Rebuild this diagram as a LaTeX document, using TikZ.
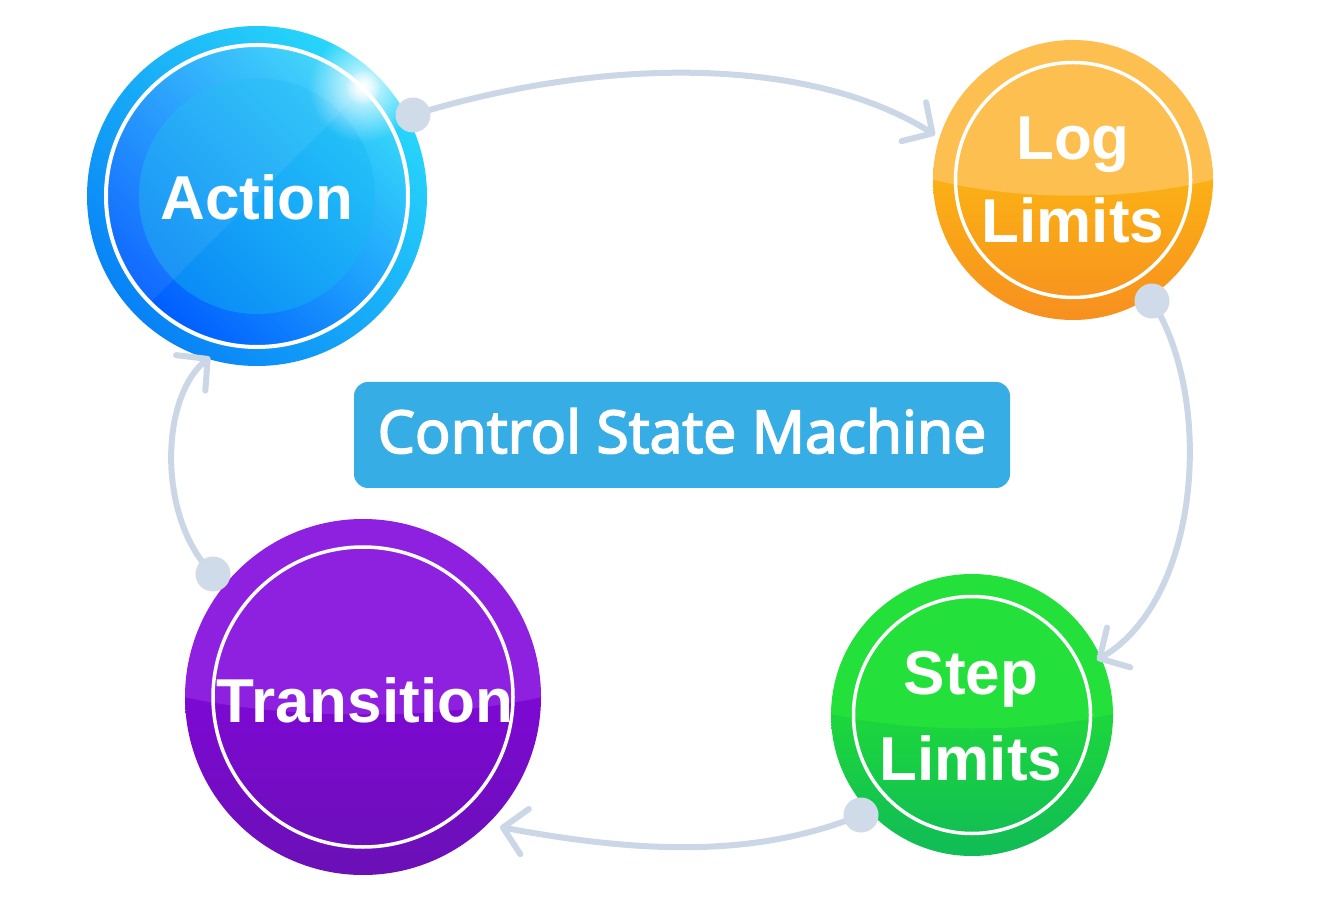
\documentclass[tikz,border=0pt]{standalone}
\usepackage{fontspec}
\setmainfont{Liberation Sans}
\newfontfamily\lblfont[FakeBold=3]{Open Sans}
\usetikzlibrary{arrows.meta,fadings}
\tikzfading[name=glowfade, inner color=transparent!0, outer color=transparent!100]
\definecolor{lineC}{HTML}{CBD7E6}
\definecolor{dotC}{HTML}{CFDBE8}
\definecolor{acTop}{HTML}{28D8FA}
\definecolor{acBot}{HTML}{0882F6}
\definecolor{acRingTop}{HTML}{36D6FA}
\definecolor{acRingBot}{HTML}{005EFF}
\definecolor{acInTop}{HTML}{24C2F8}
\definecolor{acInBot}{HTML}{0A8CF6}
\definecolor{logTop}{HTML}{FDBF4F}
\definecolor{logMid}{HTML}{FBB314}
\definecolor{logBot}{HTML}{F78F1F}
\definecolor{stTop}{HTML}{23E13A}
\definecolor{stMid}{HTML}{1DD83B}
\definecolor{stBot}{HTML}{10BB57}
\definecolor{trTop}{HTML}{8E21E0}
\definecolor{trMid}{HTML}{7E08D4}
\definecolor{trBot}{HTML}{6A10B6}
\definecolor{boxC}{HTML}{36ADE5}
\begin{document}
\begin{tikzpicture}[x=1pt,y=1pt,
  conn/.style={draw=lineC, line width=6pt, line cap=round,
    -{Straight Barb[length=22pt,width=46pt,round]}},
  dotst/.style={fill=dotC},
  ringst/.style={draw=white, line width=3.5pt},
  circtxt/.style={text=white, font=\fontsize{62}{70}\selectfont\bfseries, anchor=base, inner sep=0pt},
  statecirc/.style={circle, inner sep=0pt}
]
\useasboundingbox (0,0) rectangle (1324,908);

% ---------- Action ----------
\node[statecirc, minimum size=340pt] (action) at (257,712) {};
\shade[top color=acTop, bottom color=acBot, shading angle=-45] (action.center) circle (170);
\shade[top color=acRingTop, bottom color=acRingBot, shading angle=-45] (action.center) circle (149);
\shade[top color=acInTop, bottom color=acInBot, shading angle=-45] (action.center) circle (118);
\begin{scope}
  \clip (action.center) circle (149);
  \fill[white, opacity=0.07] (57,512) -- (457,912) -- (57,912) -- cycle;
\end{scope}
\draw[white, line width=4pt] (action.center) circle (151);
\fill[white, path fading=glowfade, opacity=0.9] (363,821) circle (55);
\fill[white, path fading=glowfade, opacity=1] (363,821) circle (18);

% ---------- Log Limits ----------
\node[statecirc, minimum size=280pt] (log) at (1073,728) {};
\begin{scope}
  \clip (log.center) circle (140);
  \shade[top color=logMid, bottom color=logBot] (930,740) rectangle (1216,586);
  \fill[logTop] (923,731) .. controls (1013,706) and (1133,706) .. (1223,731)
    -- (1223,880) -- (923,880) -- cycle;
\end{scope}
\draw[ringst] (log.center) circle (117.5);

% ---------- Step Limits ----------
\node[statecirc, minimum size=282pt] (step) at (972,193) {};
\begin{scope}
  \clip (step.center) circle (141);
  \shade[top color=stMid, bottom color=stBot] (828,200) rectangle (1116,50);
  \fill[stTop] (822,196) .. controls (912,174) and (1032,174) .. (1122,196)
    -- (1122,340) -- (822,340) -- cycle;
\end{scope}
\draw[ringst] (step.center) circle (118.5);

% ---------- Transition ----------
\node[statecirc, minimum size=356pt] (trans) at (363,211) {};
\begin{scope}
  \clip (trans.center) circle (178);
  \shade[top color=trMid, bottom color=trBot] (183,220) rectangle (543,31);
  \fill[trTop] (175,213) .. controls (285,187) and (441,187) .. (551,213)
    -- (551,395) -- (175,395) -- cycle;
\end{scope}
\draw[ringst] (trans.center) circle (150);

% ---------- Label ----------
\node[fill=boxC, rounded corners=14pt, minimum width=656pt, minimum height=106pt,
  inner sep=0pt] (box) at (682,473) {};
\node[text=white, font=\lblfont\fontsize{59}{64}\selectfont, anchor=base, inner sep=0pt]
  (boxtxt) at (682,455) {Control State Machine};

% ---------- Texts ----------
\node[circtxt] (acttxt) at (257,688) {Action};
\node[circtxt] (logtxtA) at (1073,748) {Log};
\node[circtxt] (logtxtB) at (1073,665) {Limits};
\node[circtxt] (steptxtA) at (971,214) {Step};
\node[circtxt] (steptxtB) at (971,128) {Limits};
\node[circtxt] (trtxt) at (365,186) {Transition};

% ---------- Connectors ----------
\coordinate (dA) at (413,793);
\coordinate (tL) at (935,773);
\coordinate (dL) at (1152,607);
\coordinate (tS) at (1097,248);
\coordinate (dS) at (861,93);
\coordinate (tT) at (500,81);
\coordinate (dT) at (213,334);
\coordinate (tA) at (210,551);

\draw[conn] (dA) .. controls (600,851) and (808,853) .. (tL);
\draw[conn] (dL) .. controls (1215,508) and (1200,308) .. (tS);
\draw[conn] (dS) .. controls (760,52) and (649,53) .. (tT);
\draw[conn] (dT) .. controls (158,388) and (159,509) .. (tA);

\fill[dotst] (dA) circle (17.5);
\fill[dotst] (dL) circle (17.5);
\fill[dotst] (dS) circle (17.5);
\fill[dotst] (dT) circle (17.5);
\end{tikzpicture}
\end{document}
